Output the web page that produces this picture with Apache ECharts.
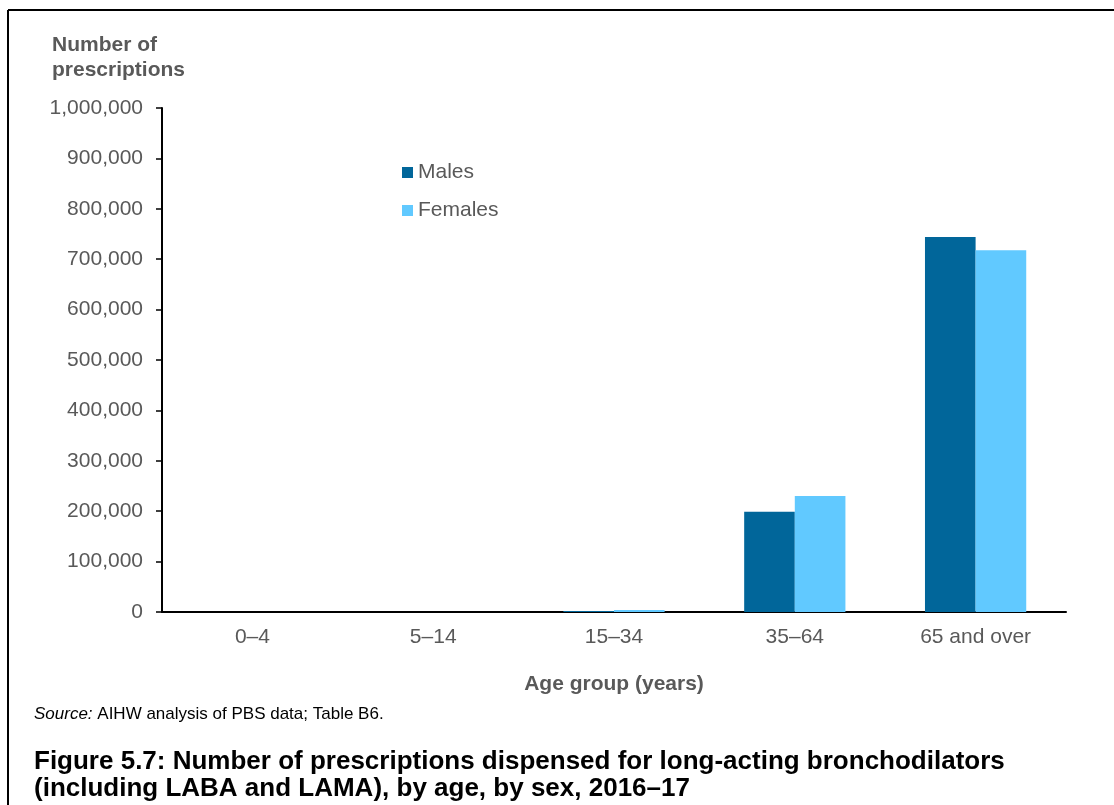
<!DOCTYPE html>
<html>
<head>
<meta charset="utf-8">
<script src="https://cdn.jsdelivr.net/npm/echarts@6/dist/echarts.min.js"></script>
<style>
  html, body { margin: 0; padding: 0; background: #fff; }
  #chart { width: 1114px; height: 805px; }
</style>
</head>
<body>
<div id="chart"></div>
<script>
const categories = ['0–4', '5–14', '15–34', '35–64', '65 and over'];
const males = [0, 0, 2000, 199000, 744000];
const females = [0, 0, 4000, 230000, 718000];
const seriesNames = ['Males', 'Females'];
const yTicks = { min: 0, max: 1000000, interval: 100000 };

const FONT = '"Liberation Sans", Arial, sans-serif';
const GREY = '#595959';

const chart = echarts.init(document.getElementById('chart'), null, { renderer: 'canvas' });
chart.setOption({
  animation: false,
  backgroundColor: '#fff',
  textStyle: { fontFamily: FONT },
  grid: { left: 162, right: 48, top: 108, bottom: 193, containLabel: false },
  legend: {
    orient: 'vertical',
    left: 402,
    top: 162,
    padding: 0,
    itemWidth: 11,
    itemHeight: 11,
    itemGap: 17,
    icon: 'rect',
    textStyle: { fontFamily: FONT, fontSize: 21, color: GREY },
    data: seriesNames
  },
  xAxis: {
    type: 'category',
    data: categories,
    name: 'Age group (years)',
    nameLocation: 'middle',
    nameGap: 62,
    nameTextStyle: { fontFamily: FONT, fontSize: 21, fontWeight: 'bold', color: GREY },
    axisLine: { lineStyle: { color: '#000', width: 2 } },
    axisTick: { show: false },
    axisLabel: { fontFamily: FONT, fontSize: 21, color: GREY, margin: 15 }
  },
  yAxis: {
    type: 'value',
    min: yTicks.min,
    max: yTicks.max,
    interval: yTicks.interval,
    axisLine: { show: true, lineStyle: { color: '#000', width: 2 } },
    axisTick: { show: true, length: 6, lineStyle: { color: '#000', width: 1.5 } },
    splitLine: { show: false },
    axisLabel: {
      fontFamily: FONT, fontSize: 21, color: GREY, margin: 19,
      formatter: v => v.toLocaleString('en-US')
    }
  },
  series: [
    {
      name: seriesNames[0], type: 'bar', data: males,
      itemStyle: { color: '#01669A' },
      barGap: '0%', barCategoryGap: '44%'
    },
    {
      name: seriesNames[1], type: 'bar', data: females,
      itemStyle: { color: '#61C9FF' },
      barGap: '0%', barCategoryGap: '44%'
    }
  ],
  graphic: [
    { type: 'line', shape: { x1: 8, y1: 10, x2: 1114, y2: 10 }, style: { stroke: '#000', lineWidth: 2 } },
    { type: 'line', shape: { x1: 8, y1: 10, x2: 8, y2: 805 }, style: { stroke: '#000', lineWidth: 2 } },
    {
      type: 'text', left: 52, top: 33,
      style: { text: 'Number of\nprescriptions', font: 'bold 21px ' + FONT, fill: GREY, lineHeight: 25 }
    },
    {
      type: 'text', left: 34, top: 706,
      style: {
        text: '{i|Source:} AIHW analysis of PBS data; Table B6.',
        font: '17px ' + FONT, fill: '#000',
        rich: { i: { fontStyle: 'italic', fontSize: 17, fontFamily: FONT, fill: '#000' } }
      }
    },
    {
      type: 'text', left: 34, top: 748,
      style: {
        text: 'Figure 5.7: Number of prescriptions dispensed for long-acting bronchodilators\n(including LABA and LAMA), by age, by sex, 2016–17',
        font: 'bold 26px ' + FONT, fill: '#000', lineHeight: 27
      }
    }
  ]
});
</script>
</body>
</html>
